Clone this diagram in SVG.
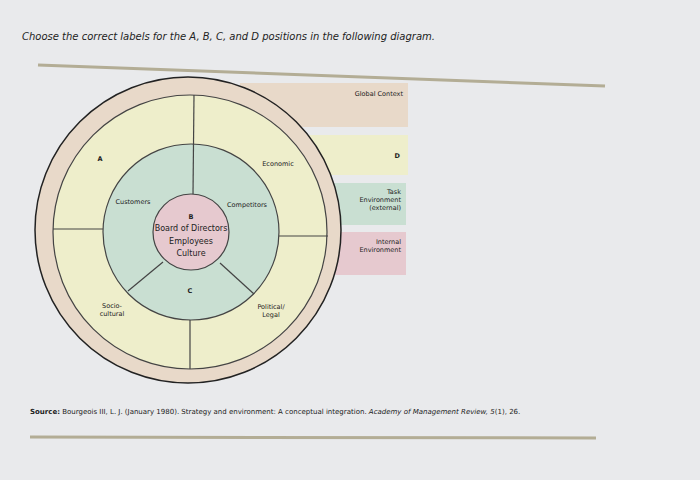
<svg xmlns="http://www.w3.org/2000/svg" width="700" height="480" viewBox="0 0 700 480">
<style>
text{font-family:"DejaVu Sans","Liberation Sans",sans-serif;fill:#222}
.s{font-size:6.5px}.m{font-size:8px}.b{font-weight:bold}
.ln{stroke:#444;stroke-width:1.2}
line.ln{fill:none}
</style>
<rect width="700" height="480" fill="#e9eaec"/>
<text x="22" y="40" font-size="10" font-style="italic" fill="#222">Choose the correct labels for the A, B, C, and D positions in the following diagram.</text>
<line x1="38" y1="65" x2="605" y2="86" stroke="#b3ad95" stroke-width="3"/>
<g id="legend">
<rect x="240" y="83" width="168" height="44" fill="#e8d9c9"/>
<text x="403" y="96" text-anchor="end" class="s">Global Context</text>
<rect x="240" y="135" width="168" height="40" fill="#eeeecb"/>
<text x="400" y="158" text-anchor="end" class="s b">D</text>
<rect x="240" y="183" width="166" height="42" fill="#c9dfd2"/>
<text x="401" y="194" text-anchor="end" class="s">Task</text>
<text x="401" y="202" text-anchor="end" class="s">Environment</text>
<text x="401" y="210" text-anchor="end" class="s">(external)</text>
<rect x="240" y="232" width="166" height="43" fill="#e6c9cf"/>
<text x="401" y="244" text-anchor="end" class="s">Internal</text>
<text x="401" y="252" text-anchor="end" class="s">Environment</text>
</g>
<g id="outer"><circle cx="188" cy="230" r="153" fill="#e8d9c9" stroke="#222" stroke-width="1.5"/></g>
<g id="general"><circle cx="190" cy="232" r="137" fill="#eeeecb" class="ln"/></g>
<g id="task"><circle cx="191" cy="232" r="88" fill="#c9dfd2" class="ln"/></g>
<g id="connectors">
<line x1="194" y1="95" x2="193" y2="194" class="ln"/>
<line x1="53" y1="229" x2="103" y2="229" class="ln"/>
<line x1="279" y1="236" x2="328" y2="236" class="ln"/>
<line x1="190" y1="320" x2="190" y2="369" class="ln"/>
<line x1="163" y1="262" x2="128" y2="291" class="ln"/>
<line x1="220" y1="263" x2="254" y2="294" class="ln"/>
</g>
<g id="internal"><circle cx="191" cy="232" r="38" fill="#e6c9cf" class="ln"/>
<text x="191" y="219" text-anchor="middle" class="s b">B</text>
<text x="191" y="231" text-anchor="middle" class="m">Board of Directors</text>
<text x="191" y="244" text-anchor="middle" class="m">Employees</text>
<text x="191" y="256" text-anchor="middle" class="m">Culture</text></g>
<g id="labels">
<text x="100" y="161" text-anchor="middle" class="s b">A</text>
<text x="278" y="166" text-anchor="middle" class="s">Economic</text>
<text x="133" y="204" text-anchor="middle" class="s">Customers</text>
<text x="247" y="207" text-anchor="middle" class="s">Competitors</text>
<text x="190" y="293" text-anchor="middle" class="s b">C</text>
<text x="112" y="308" text-anchor="middle" class="s">Socio-</text>
<text x="112" y="316" text-anchor="middle" class="s">cultural</text>
<text x="271" y="309" text-anchor="middle" class="s">Political/</text>
<text x="271" y="317" text-anchor="middle" class="s">Legal</text>
</g>
<text x="30" y="414" font-size="7" fill="#222"><tspan font-weight="bold">Source:</tspan> Bourgeois III, L. J. (January 1980). Strategy and environment: A conceptual integration. <tspan font-style="italic">Academy of Management Review, 5</tspan>(1), 26.</text>
<line x1="30" y1="437" x2="596" y2="438" stroke="#b3ad95" stroke-width="3"/>
</svg>
